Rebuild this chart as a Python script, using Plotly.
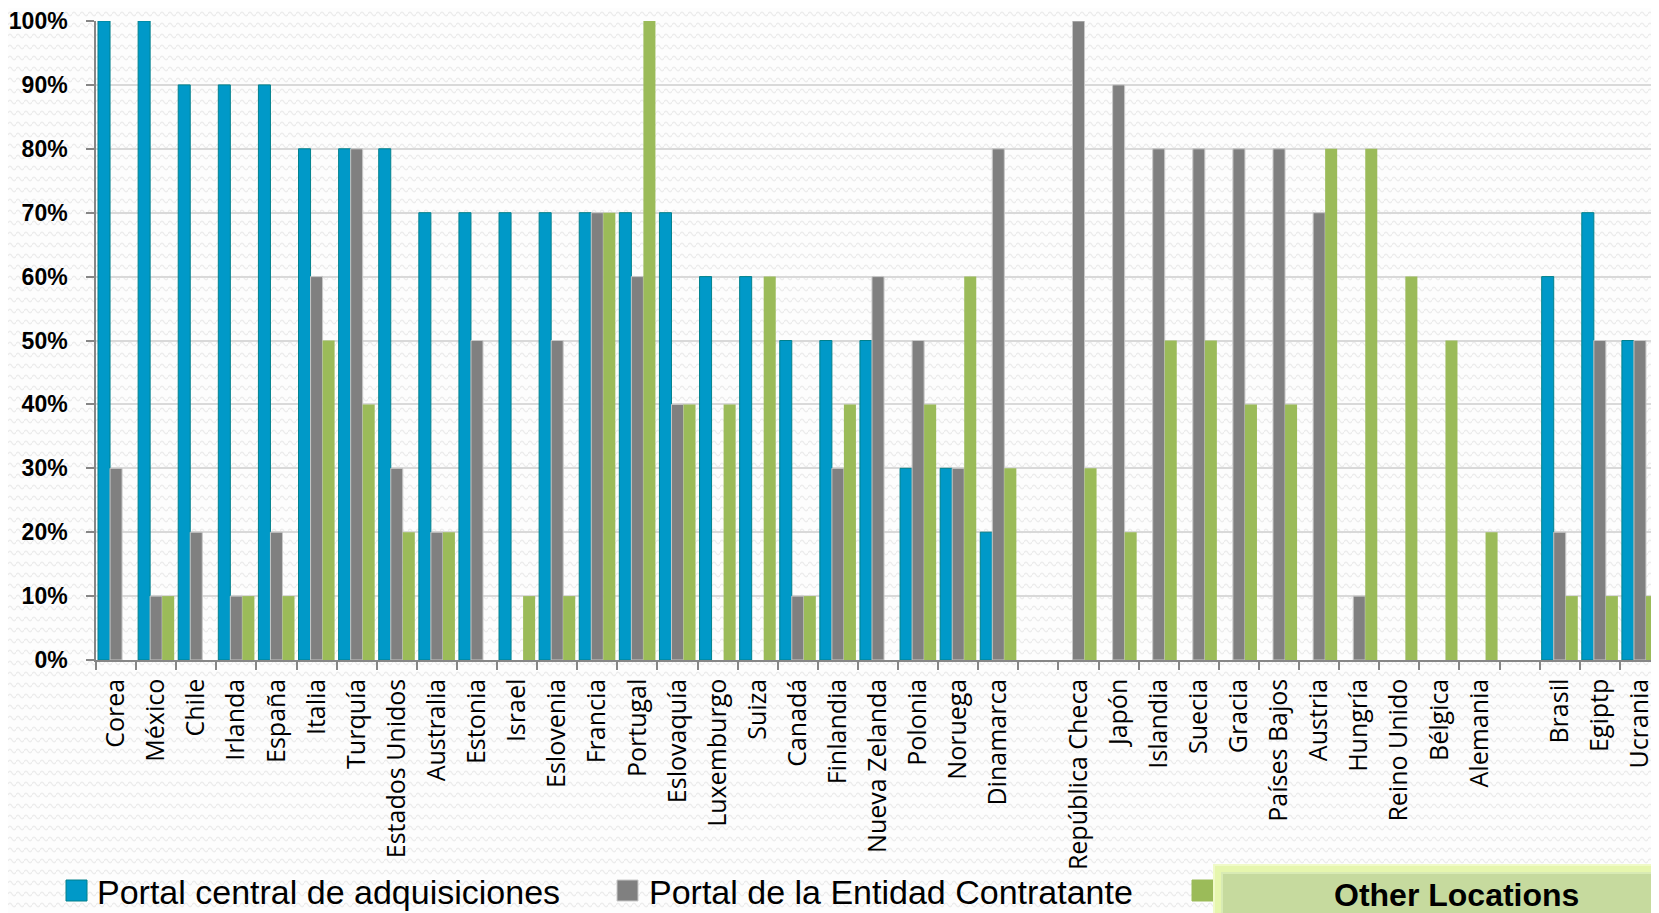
import base64
import plotly.graph_objects as go

# ---------------- data ----------------
countries = [
    "Corea", "México", "Chile", "Irlanda", "España", "Italia", "Turquía",
    "Estados Unidos", "Australia", "Estonia", "Israel", "Eslovenia", "Francia",
    "Portugal", "Eslovaquía", "Luxemburgo", "Suiza", "Canadá", "Finlandia",
    "Nueva Zelanda", "Polonia", "Noruega", "Dinamarca", " ",
    "República Checa", "Japón", "Islandia", "Suecia", "Gracia", "Países Bajos",
    "Austria", "Hungría", "Reino Unido", "Bélgica", "Alemania", "  ",
    "Brasil", "Egiptp", "Ucrania",
]
portal_central = [100, 100, 90, 90, 90, 80, 80, 80, 70, 70, 70, 70, 70, 70, 70, 60, 60, 50, 50, 50, 30, 30, 20, None,
                  None, None, None, None, None, None, None, None, None, None, None, None,
                  60, 70, 50]
portal_entidad = [30, 10, 20, 10, 20, 60, 80, 30, 20, 50, None, 50, 70, 60, 40, None, None, 10, 30, 60, 50, 30, 80, None,
                  100, 90, 80, 80, 80, 80, 70, 10, None, None, None, None,
                  20, 50, 50]
other_locations = [None, 10, None, 10, 10, 50, 40, 20, 20, None, 10, 10, 70, 100, 40, 40, 60, 10, 40, None, 40, 60, 30, None,
                   30, 20, 50, 50, 40, 40, 80, 80, 60, 50, 20, None,
                   10, 10, 10]
series_names = ["Portal central de adquisiciones", "Portal de la Entidad Contratante", "Other Locations"]
y_ticks = [0, 10, 20, 30, 40, 50, 60, 70, 80, 90, 100]
y_tick_labels = [f"{v}%" for v in y_ticks]

# ---------------- geometry / style ----------------
# the page body adds an 8px offset; all targets below are in window pixels
OFF = 8
W, H = 1659, 913
PLOT_L, PLOT_T, PLOT_R, PLOT_B = 96, 21, 1660, 660  # window pixels
L, T = PLOT_L - OFF, PLOT_T - OFF
R, B = W - (PLOT_R - OFF), H - (PLOT_B - OFF)
PW, PH = W - L - R, H - T - B

def px(x):
    return (x - OFF - L) / PW

def py(y):
    return (H - B - (y - OFF)) / PH

BLUE, BLUE_LINE = "#0099C8", "#00808C"
GRAY, GRAY_LINE = "#808080", "#C8C8C8"
GREEN = "#9BBB59"
AXIS = "#868686"
GRID = "#D9D9D9"

fig = go.Figure()
fig.add_trace(go.Bar(x=countries, y=portal_central, name=series_names[0],
                     marker=dict(color=BLUE, line=dict(color=BLUE_LINE, width=1))))
fig.add_trace(go.Bar(x=countries, y=portal_entidad, name=series_names[1],
                     marker=dict(color=GRAY, line=dict(color=GRAY_LINE, width=1))))
fig.add_trace(go.Bar(x=countries, y=other_locations, name=series_names[2],
                     marker=dict(color=GREEN, line=dict(color=GREEN, width=0))))

# subtle wavy background pattern
svg = (
    "<svg xmlns='http://www.w3.org/2000/svg' width='1659' height='913'>"
    "<defs><pattern id='p' width='8' height='11' patternUnits='userSpaceOnUse'>"
    "<path d='M0 6 Q2 2.5 4 6 T8 6' fill='none' stroke='#ECECEC' stroke-width='1.3'/>"
    "</pattern></defs>"
    "<rect width='100%' height='100%' fill='#FDFDFD'/>"
    "<rect width='100%' height='100%' fill='url(#p)'/></svg>"
)
src = "data:image/svg+xml;base64," + base64.b64encode(svg.encode()).decode()

shapes = []
annotations = []

# manual legend (squares + labels)
leg = [(66, 95, BLUE, BLUE_LINE), (617, 647, GRAY, GRAY_LINE), (1192, None, GREEN, GREEN)]
for i, (sx, tx, col, lcol) in enumerate(leg):
    shapes.append(dict(type="rect", xref="paper", yref="paper",
                       x0=px(sx), x1=px(sx + 21), y0=py(901), y1=py(880),
                       fillcolor=col, line=dict(color=lcol, width=1), layer="above"))
    if tx is not None:
        annotations.append(dict(text=series_names[i], xref="paper", yref="paper",
                                x=px(tx), y=py(892), xanchor="left", yanchor="middle",
                                showarrow=False,
                                font=dict(family="Liberation Sans, Arial", size=34, color="#000000")))

# "Other Locations" button overlay
shapes.append(dict(type="rect", xref="paper", yref="paper",
                   x0=px(1214), x1=px(1672), y0=py(925), y1=py(865),
                   fillcolor="#E6F6AE", line=dict(color="#F0FAC8", width=2), layer="above"))
shapes.append(dict(type="rect", xref="paper", yref="paper",
                   x0=px(1222), x1=px(1672), y0=py(925), y1=py(873),
                   fillcolor="#C6DA9E", line=dict(color="#D8EAB4", width=2), layer="above"))
annotations.append(dict(text="<b>" + series_names[2] + "</b>", xref="paper", yref="paper",
                        x=px(1456), y=py(895), xanchor="center", yanchor="middle",
                        showarrow=False,
                        font=dict(family="Liberation Sans, Arial", size=32, color="#000000")))

fig.update_layout(
    width=W, height=H,
    margin=dict(l=L, r=R, t=T, b=B, pad=0, autoexpand=False),
    paper_bgcolor="#FFFFFF",
    plot_bgcolor="rgba(0,0,0,0)",
    barmode="group", bargap=0.1, bargroupgap=0,
    showlegend=False,
    images=[dict(source=src, xref="paper", yref="paper",
                 x=-L / PW, y=1 + T / PH, sizex=W / PW, sizey=H / PH,
                 sizing="stretch", layer="below", xanchor="left", yanchor="top")],
    shapes=shapes,
    annotations=annotations,
    xaxis=dict(type="category", categoryorder="array", categoryarray=countries,
               automargin=False,
               tickson="boundaries", ticks="outside", ticklen=8, tickwidth=1.5, tickcolor=AXIS,
               showline=True, linecolor=AXIS, linewidth=1.5, showgrid=False,
               tickangle=-90, ticklabelstandoff=7,
               tickfont=dict(family="Open Sans", size=25, color="#000000")),
    yaxis=dict(range=[0, 100], tickvals=y_ticks, ticktext=y_tick_labels,
               automargin=False,
               ticks="outside", ticklen=8, tickwidth=1.5, tickcolor=AXIS,
               showline=True, linecolor=AXIS, linewidth=1.5,
               showgrid=True, gridcolor=GRID, gridwidth=2, zeroline=False,
               ticklabelstandoff=14,
               tickfont=dict(family="Liberation Sans, Arial", size=23, color="#000000",
                             weight="bold")),
)

fig.write_html("out.html")
